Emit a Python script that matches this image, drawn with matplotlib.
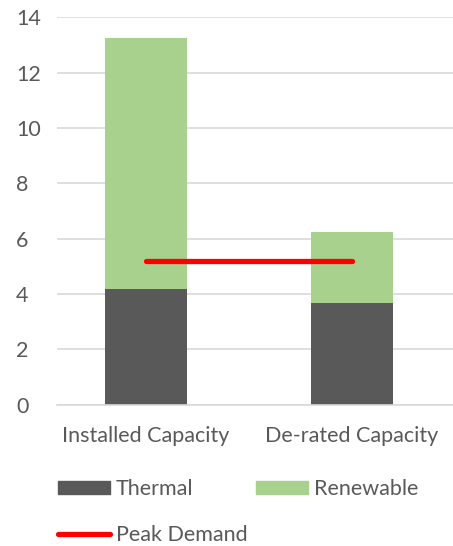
import matplotlib
matplotlib.use("Agg")
import matplotlib.pyplot as plt
from matplotlib.patches import Patch
from matplotlib.lines import Line2D

categories = ["Installed Capacity", "De-rated Capacity"]
thermal = [4.19, 3.69]
renewable = [9.05, 2.54]
peak_demand = [5.21, 5.21]
y_ticks = [0, 2, 4, 6, 8, 10, 12, 14]

DARK = "#595959"
GREEN = "#a9d18e"
RED = "#ff0000"
TXT = "#595959"
GRID = "#d9d9d9"

plt.rcParams["font.family"] = ["Lato", "DejaVu Sans"]

fig = plt.figure(figsize=(4.53, 5.46), dpi=100)
ax = fig.add_axes([57 / 453, (546 - 404.7) / 546, 1 - 57 / 453, (404.7 - 17.3) / 546])

x = list(range(len(categories)))
ax.bar(x, thermal, width=0.40, color=DARK, zorder=2)
ax.bar(x, renewable, width=0.40, bottom=thermal, color=GREEN, zorder=2)
ax.plot(x, peak_demand, color=RED, lw=3.8, solid_capstyle="round", zorder=3)

ax.set_xlim(-0.432, 1.49)
ax.set_ylim(0, 14)
ax.set_yticks(y_ticks)
ax.set_xticks(x)
ax.set_xticklabels(categories)
ax.grid(axis="y", color=GRID, lw=1.2, zorder=0)
for s in ["top", "right", "left"]:
    ax.spines[s].set_visible(False)
ax.spines["bottom"].set_color(GRID)
ax.spines["bottom"].set_linewidth(1.2)
ax.tick_params(axis="both", length=0, labelsize=15.5, colors=TXT)
ax.tick_params(axis="y", pad=29.5)
ax.tick_params(axis="x", pad=15)
for lbl in ax.get_yticklabels():
    lbl.set_horizontalalignment("left")

handles = [
    Patch(color=DARK, label="Thermal"),
    Line2D([], [], color=RED, lw=3.8, solid_capstyle="round", label="Peak Demand"),
    Patch(color=GREEN, label="Renewable"),
]
fig.legend(handles=handles, ncol=2, loc="upper left",
           bbox_to_anchor=(58 / 453, (546 - 479) / 546),
           frameon=False, fontsize=15.5, labelcolor=TXT,
           handlelength=2.4, handleheight=0.6, handletextpad=0.28,
           columnspacing=0.4, labelspacing=1.2, borderpad=0, borderaxespad=0)

fig.savefig("out.png", dpi=100)
